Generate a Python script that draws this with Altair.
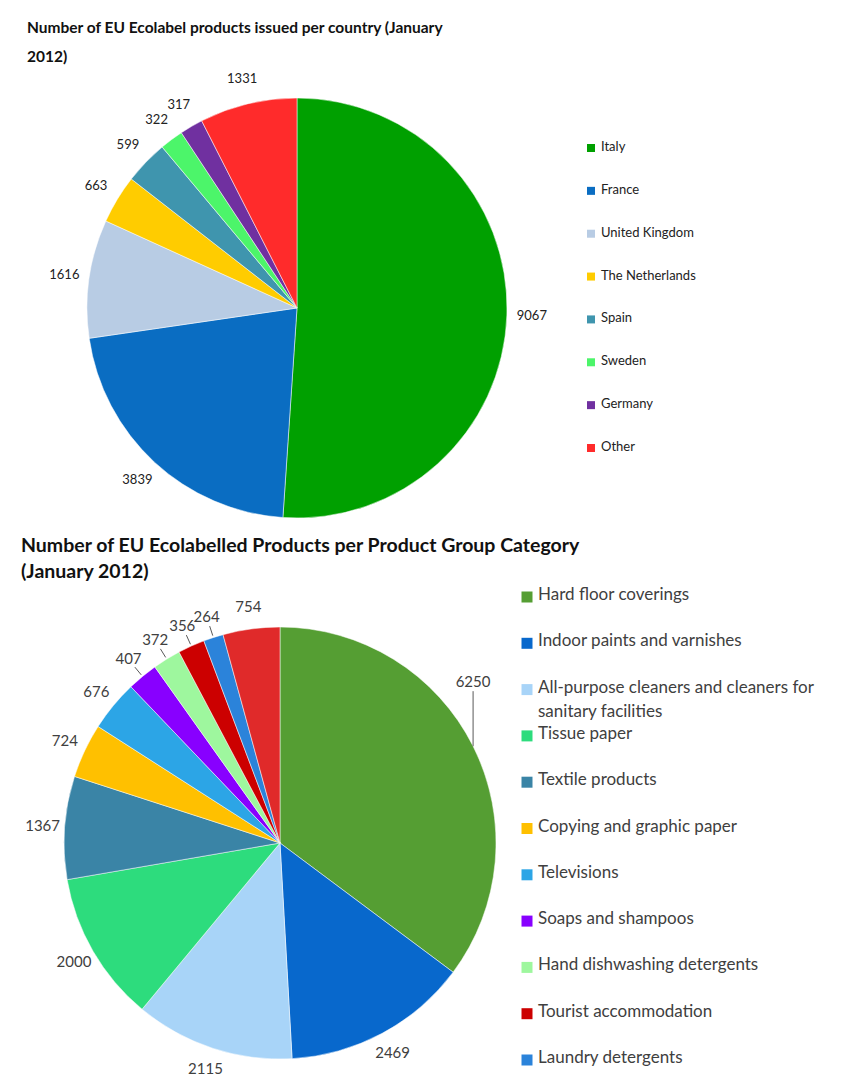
import altair as alt
import pandas as pd

# ---- data -------------------------------------------------------------
countries = ["Italy", "France", "United Kingdom", "The Netherlands",
             "Spain", "Sweden", "Germany", "Other"]
country_products = [9067, 3839, 1616, 663, 599, 322, 317, 1331]
country_colors = ["#00A000", "#0A6DC2", "#B8CCE4", "#FFCC00",
                  "#3F95AE", "#4CF56A", "#7030A0", "#FF2B2B"]

groups = ["Hard floor coverings", "Indoor paints and varnishes",
          "All-purpose cleaners and cleaners for\nsanitary facilities",
          "Tissue paper", "Textile products", "Copying and graphic paper",
          "Televisions", "Soaps and shampoos", "Hand dishwashing detergents",
          "Tourist accommodation", "Laundry detergents", "Other"]
group_products = [6250, 2469, 2115, 2000, 1367, 724, 676, 407, 372, 356, 264, 754]
group_colors = ["#559E33", "#0868CC", "#A8D4F8", "#2DDC7D", "#3A84A6", "#FFC000",
                "#2CA5E6", "#8800FF", "#9EF79E", "#CC0000", "#2B83DA", "#E02A2A"]
legend_groups = groups[:11]
leader_groups = ["Soaps and shampoos", "Hand dishwashing detergents",
                 "Tourist accommodation", "Laundry detergents"]
raised_group = "Hard floor coverings"

title_top = ["Number of EU Ecolabel products issued per country (January", "2012)"]
title_bottom = ["Number of EU Ecolabelled Products per Product Group Category",
                "(January 2012)"]

# ---- layout -----------------------------------------------------------
W, H = 850, 1077
TOP_CX, TOP_CY, TOP_R, TOP_LR = 297, 308, 210, 235
BOT_CX, BOT_CY, BOT_R, BOT_LR = 280, 843, 216, 238
FONT = "Lato"
TXT = "#404040"

df_top = pd.DataFrame({"name": countries, "value": country_products,
                       "idx": range(len(countries))})
df_bot = pd.DataFrame({"name": groups, "value": group_products,
                       "idx": range(len(groups))})


def pie(df, domain, colors, cx, cy, r, label_r, label_font, label_size,
        label_color, label_expr="datum.value"):
    base = alt.Chart(df).encode(
        theta=alt.Theta("value:Q", stack=True),
        order=alt.Order("idx:Q", sort="ascending"),
        color=alt.Color("name:N", scale=alt.Scale(domain=domain, range=colors),
                        legend=None),
        x=alt.value(cx),
        y=alt.value(cy),
    )
    arcs = base.mark_arc(outerRadius=r, stroke="white", strokeWidth=0.5)
    labels = base.transform_calculate(lbl=label_expr).mark_text(
        radius=label_r, font=label_font, fontSize=label_size,
        align="center", baseline="middle"
    ).encode(text="lbl:N", color=alt.value(label_color))
    return alt.layer(arcs, labels)


def legend(names, colors, domain, y0, y1, sx, tx, size, font, font_size,
           color, line_height, dy):
    base = alt.Chart(pd.DataFrame({"name": names})).encode(
        y=alt.Y("name:N", axis=None,
                scale=alt.Scale(type="point", domain=domain, range=[y0, y1],
                                padding=0)),
    )
    squares = base.mark_square(size=size, opacity=1).encode(
        x=alt.value(sx),
        color=alt.Color("name:N", scale=alt.Scale(domain=domain, range=colors),
                        legend=None),
    )
    texts = base.mark_text(align="left", baseline="top", dy=dy, font=font,
                           fontSize=font_size, lineBreak="\n",
                           lineHeight=line_height, color=color).encode(
        x=alt.value(tx), text="name:N")
    return alt.layer(squares, texts)


def title(lines, x, y, font, size, line_height):
    return alt.Chart(pd.DataFrame({"t": ["\n".join(lines)]})).mark_text(
        align="left", baseline="alphabetic", font=font, fontSize=size,
        fontWeight="bold", lineBreak="\n", lineHeight=line_height,
        color="#111111"
    ).encode(x=alt.value(x), y=alt.value(y), text="t:N")


# ---- top pie: products per country -----------------------------------
top_pie = pie(df_top, countries, country_colors, TOP_CX, TOP_CY, TOP_R, TOP_LR,
              FONT, 13, "#222222")
top_legend = legend(countries, country_colors, countries, 148, 448, 591, 601,
                    64, FONT, 13, "#222222", 16, -7)

# ---- bottom pie: products per product group --------------------------
bot_pie = pie(df_bot, groups, group_colors, BOT_CX, BOT_CY, BOT_R, BOT_LR,
              FONT, 15, TXT,
              label_expr=f"datum.name == '{raised_group}' ? '' : datum.value")

geo = (
    alt.Chart(df_bot)
    .transform_window(cum="sum(value)", sort=[alt.SortField("idx")],
                      frame=[None, 0])
    .transform_joinaggregate(total="sum(value)")
    .transform_calculate(mid="2*PI*(datum.cum - datum.value/2)/datum.total")
)

raised = geo.transform_filter(f"datum.name == '{raised_group}'").transform_calculate(
    x0=f"{BOT_CX} + {BOT_R}*sin(datum.mid)",
    y0=f"{BOT_CY} - {BOT_R}*cos(datum.mid)",
).transform_calculate(y1="datum.y0 - 55")
raised_rule = raised.mark_rule(color="#595959", strokeWidth=1).encode(
    x=alt.X("x0:Q", scale=None), y=alt.Y("y0:Q", scale=None), y2="y1:Q")
raised_text = raised.mark_text(baseline="bottom", dy=-1, font=FONT,
                               fontSize=15, color=TXT).encode(
    x=alt.X("x0:Q", scale=None), y=alt.Y("y1:Q", scale=None), text="value:Q")

leaders = geo.transform_filter(
    alt.FieldOneOfPredicate(field="name", oneOf=leader_groups)
).transform_calculate(
    lx0=f"{BOT_CX} + {BOT_R + 2}*sin(datum.mid)",
    ly0=f"{BOT_CY} - {BOT_R + 2}*cos(datum.mid)",
    lx1=f"{BOT_CX} + {BOT_R + 12}*sin(datum.mid)",
    ly1=f"{BOT_CY} - {BOT_R + 12}*cos(datum.mid)",
).mark_rule(color="#595959", strokeWidth=1).encode(
    x=alt.X("lx0:Q", scale=None), y=alt.Y("ly0:Q", scale=None),
    x2="lx1:Q", y2="ly1:Q")

bot_legend = legend(legend_groups, group_colors[:11], legend_groups, 597, 1060,
                    527, 538, 121, FONT, 17, TXT, 24, -10)

chart = (
    alt.layer(
        title(title_top, 27, 33, FONT, 15.5, 29),
        top_pie,
        top_legend,
        title(title_bottom, 21, 552, FONT, 19.5, 26),
        bot_pie,
        raised_rule,
        raised_text,
        leaders,
        bot_legend,
    )
    .resolve_scale(theta="independent", color="independent", y="independent",
                   x="independent")
    .properties(width=W, height=H, autosize="none", padding=0,
                background="white")
    .configure_view(strokeOpacity=0)
)

chart.save("out.html", embed_options={"renderer": "svg", "actions": False})
